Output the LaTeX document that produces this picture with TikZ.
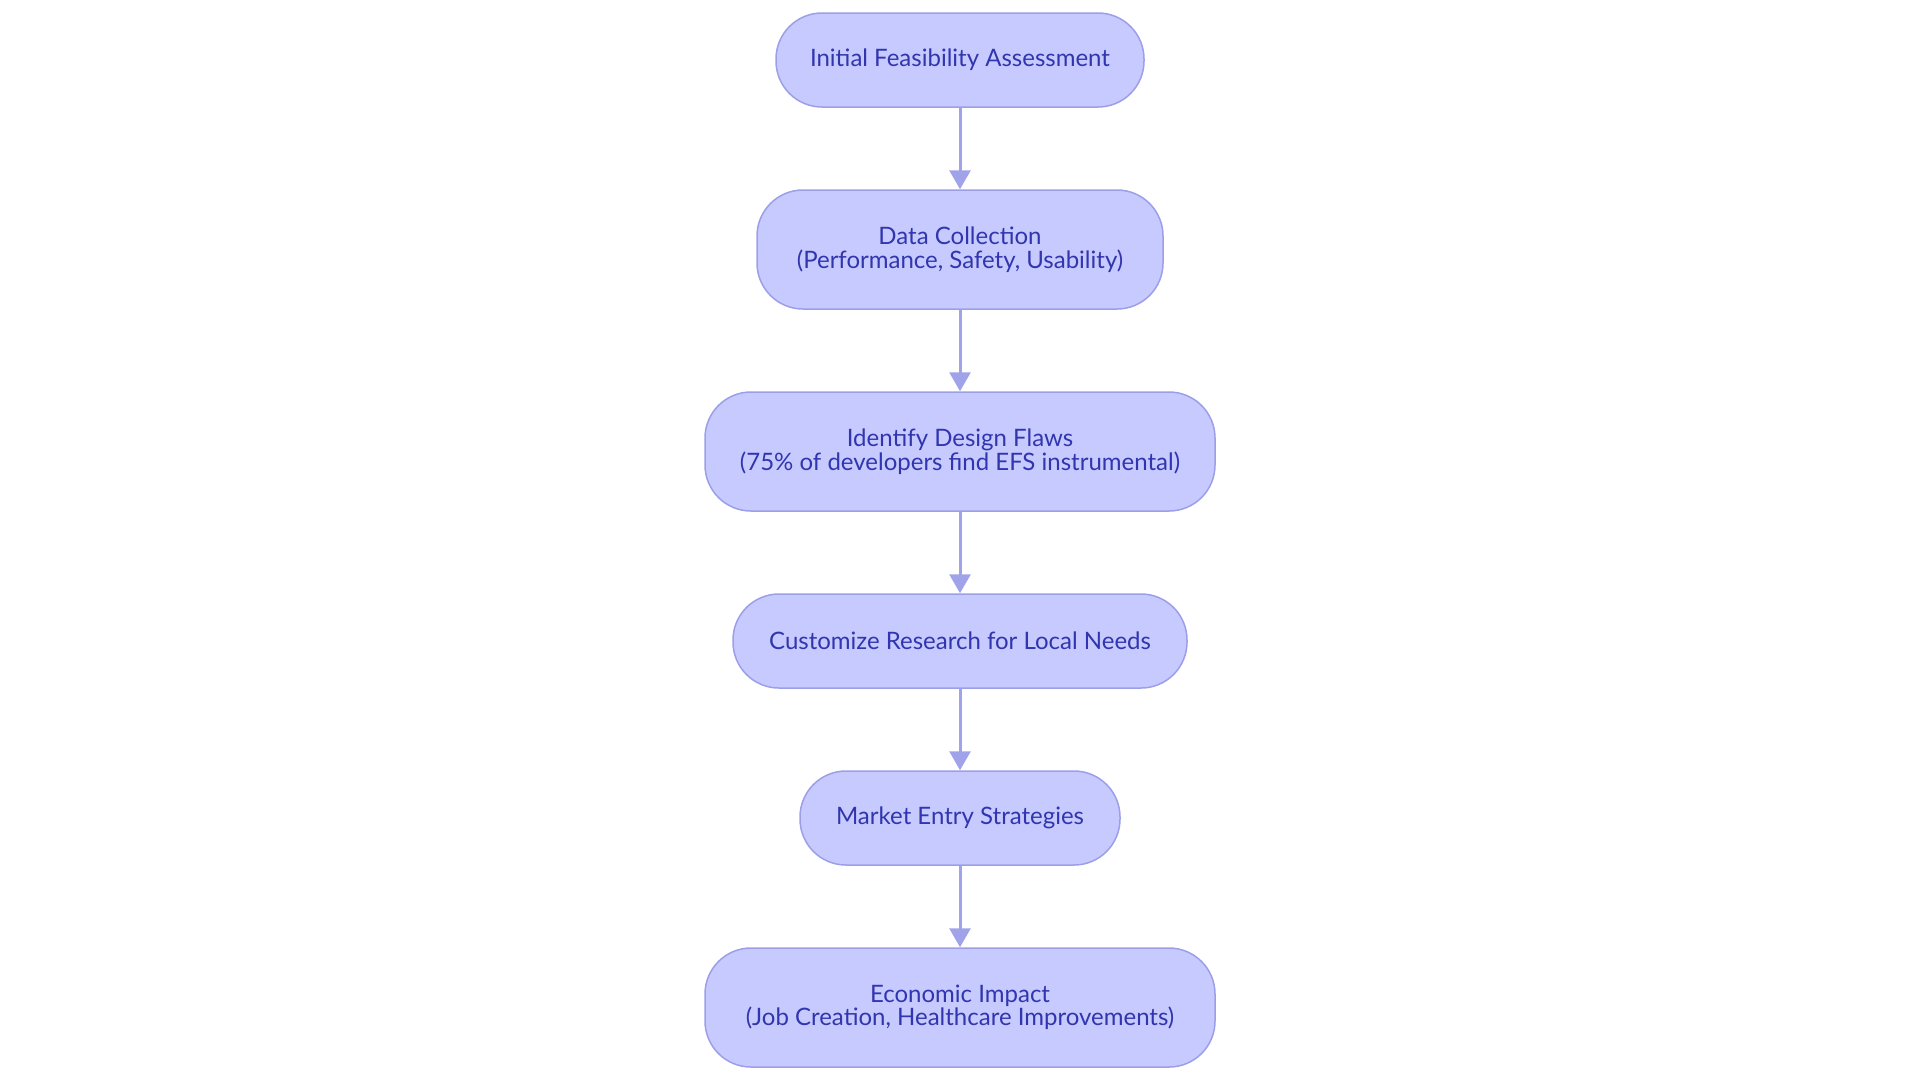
\documentclass[tikz,border=0pt]{standalone}
\usepackage{fontspec}
\setmainfont{Lato}
\usepackage{xcolor}
\usetikzlibrary{arrows.meta, positioning}
\definecolor{stepfill}{HTML}{C7CAFE}
\definecolor{stepdraw}{HTML}{9C9FE8}
\definecolor{steptext}{HTML}{3135AE}
\definecolor{flowline}{HTML}{A0A3EA}
\tikzset{
  stage/.style={draw=stepdraw, fill=stepfill, line width=0.75pt,
                rounded corners=23pt, align=center, text=steptext,
                font=\fontsize{12}{11.75}\selectfont, inner sep=0pt,
                minimum height=47pt},
  stagetwo/.style={stage, minimum height=59.5pt},
  flow/.style={-{Triangle[length=9.5pt,width=10.5pt]}, draw=flowline,
               line width=1.5pt}
}
\begin{document}
\begin{tikzpicture}[node distance=40.75pt]
  \useasboundingbox (0,0) rectangle (960pt,-541.5pt);

  % stages, top to bottom
  \node[stage, minimum width=184pt] (feas) at (480pt,-30pt)
    {Initial Feasibility Assessment};
  \node[stagetwo, minimum width=203pt, below=of feas] (data)
    {Data Collection\\(Performance, Safety, Usability)};
  \node[stagetwo, minimum width=255pt, below=of data] (flaws)
    {Identify Design Flaws\\(75\% of developers find EFS instrumental)};
  \node[stage, minimum width=227pt, below=of flaws] (local)
    {Customize Research for Local Needs};
  \node[stage, minimum width=160pt, below=of local] (market)
    {Market Entry Strategies};
  \node[stagetwo, minimum width=255pt, below=of market] (econ)
    {Economic Impact\\(Job Creation, Healthcare Improvements)};

  % arrows
  \draw[flow] (feas) -- (data);
  \draw[flow] (data) -- (flaws);
  \draw[flow] (flaws) -- (local);
  \draw[flow] (local) -- (market);
  \draw[flow] (market) -- (econ);
\end{tikzpicture}
\end{document}
